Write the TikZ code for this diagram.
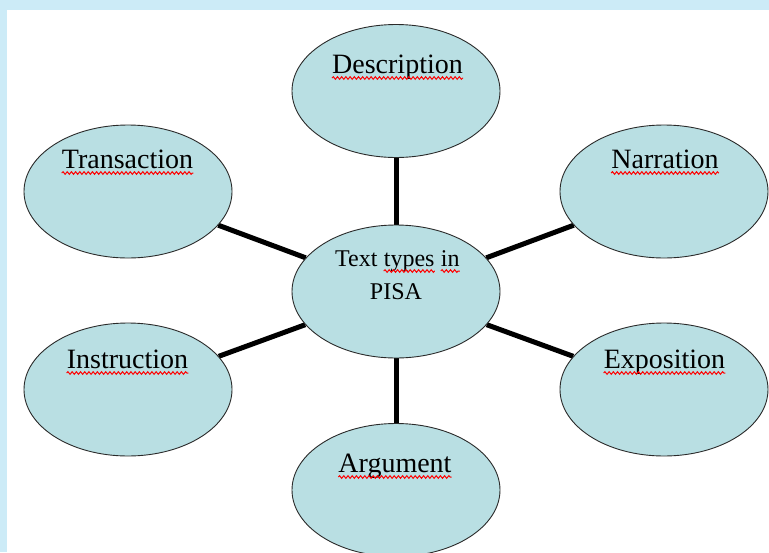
\documentclass[tikz,border=0pt]{standalone}
\usepackage{fontspec}
\setmainfont{Liberation Serif}
\usetikzlibrary{shapes.geometric,decorations.pathmorphing,backgrounds}
\definecolor{bandblue}{HTML}{CCEBF7}
\definecolor{bubblefill}{HTML}{B9DFE3}
\definecolor{outline}{HTML}{2A2A2A}
\begin{document}
\begin{tikzpicture}[x=1pt,y=-1pt,
  bubble/.style={ellipse, draw=outline, line width=0.9pt, fill=bubblefill,
    minimum width=208pt, minimum height=133pt, inner sep=0pt},
  lbl/.style={inner sep=0pt, anchor=base, font=\fontsize{28}{33}\selectfont},
  ctxt/.style={inner sep=0pt, anchor=base west, font=\fontsize{24}{29}\selectfont},
  spoke/.style={line width=5pt},
  squiggle/.style={draw=red, line width=1pt, decorate,
    decoration={snake, amplitude=1.3pt, segment length=4.2pt}}]
\useasboundingbox (0,0) rectangle (769,552);
\clip (0,0) rectangle (769,552);
% bubbles
\node[bubble] (center) at (396,291.5) {};
\node[bubble] (desc)   at (396,91) {};
\node[bubble] (trans)  at (128,191.5) {};
\node[bubble] (narr)   at (664,191.5) {};
\node[bubble] (instr)  at (128,389.5) {};
\node[bubble] (expo)   at (664,389.5) {};
\node[bubble] (arg)    at (396,490) {};
% background and spokes
\begin{scope}[on background layer]
  \fill[bandblue] (0,0) rectangle (769,552);
  \fill[white] (7,10) rectangle (769,552);
  \draw[spoke] (desc) -- (center);
  \draw[spoke] (trans) -- (center);
  \draw[spoke] (narr) -- (center);
  \draw[spoke] (instr) -- (center);
  \draw[spoke] (expo) -- (center);
  \draw[spoke] (arg) -- (center);
\end{scope}
% labels
\node[lbl] (ldesc)  at (397.5,73) {Description};
\node[lbl] (ltrans) at (127.5,168) {Transaction};
\node[lbl] (lnarr)  at (665,168) {Narration};
\node[lbl] (linstr) at (127.5,368) {Instruction};
\node[lbl] (lexpo)  at (664.5,368) {Exposition};
\node[lbl] (larg)   at (395,472) {Argument};
\foreach \n in {ldesc,ltrans,lnarr,linstr,lexpo,larg}
  \draw[squiggle] ([yshift=-5pt]\n.base west) -- ([yshift=-5pt]\n.base east);
% centre text
\node[ctxt] (t1) at (335,266) {Text};
\node[ctxt] (t2) at ([xshift=6pt]t1.base east) {types};
\node[ctxt] (t3) at ([xshift=6pt]t2.base east) {in};
\node[ctxt, anchor=base] (t4) at (396,299) {PISA};
\draw[squiggle] ([yshift=-5pt]t2.base west) -- ([yshift=-5pt]t2.base east);
\draw[squiggle] ([yshift=-5pt]t3.base west) -- ([yshift=-5pt]t3.base east);
\end{tikzpicture}
\end{document}
